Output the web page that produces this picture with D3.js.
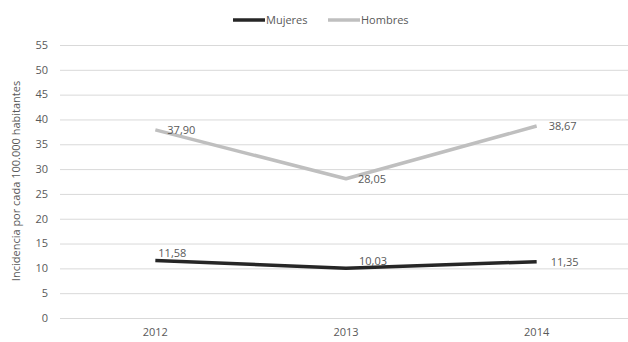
<!DOCTYPE html>
<html><head><meta charset="utf-8">
<script src="https://cdn.jsdelivr.net/npm/d3@7"></script>
<style>body{margin:0;background:#fff}svg{display:block}text{font-family:"Open Sans",sans-serif;fill:#595959}</style>
</head><body><svg id="c" width="628" height="342"></svg>
<script>
const years = ["2012","2013","2014"];
const mujeres = [11.58, 10.03, 11.35];
const hombres = [37.90, 28.05, 38.67];
const yTicks = [0,5,10,15,20,25,30,35,40,45,50,55];
const seriesNames = ["Mujeres","Hombres"];
const colors = ["#262626","#bfbfbf"];
const yTitle = "Incidencia por cada 100.000 habitantes";

const svg = d3.select("#c");
const x = d3.scaleBand().domain(years).range([60, 632]);
const y = d3.scaleLinear().domain([0,55]).range([318, 45]);
const fmt = v => v.toFixed(2).replace(".", ",");

svg.append("g").selectAll("line").data(yTicks).join("line")
  .attr("x1",60).attr("x2",628).attr("y1",d=>y(d)+0.5).attr("y2",d=>y(d)+0.5)
  .attr("stroke","#d9d9d9").attr("stroke-width",1);

svg.append("g").selectAll("text").data(yTicks).join("text")
  .attr("x",48).attr("y",d=>y(d)).attr("dy","0.35em").attr("text-anchor","end")
  .attr("font-size",11).text(d=>d);

svg.append("g").selectAll("text").data(years).join("text")
  .attr("x",d=>x(d)+x.bandwidth()/2).attr("y",336).attr("text-anchor","middle")
  .attr("font-size",11).text(d=>d);

svg.append("text").attr("transform","translate(20,181) rotate(-90)")
  .attr("text-anchor","middle").attr("font-size",11).text(yTitle);

const cx = d => x(d)+x.bandwidth()/2;
const line = d3.line().x((d,i)=>cx(years[i])).y(d=>y(d));
[mujeres, hombres].forEach((s,k)=>{
  svg.append("path").datum(s).attr("d",line).attr("fill","none")
    .attr("stroke",colors[k]).attr("stroke-width",3.5).attr("stroke-linejoin","round");
});
// labels
hombres.forEach((v,i)=>{
  svg.append("text").attr("x",cx(years[i])+12).attr("y",y(v)).attr("dy","0.35em")
    .attr("font-size",11).text(fmt(v));
});
mujeres.forEach((v,i)=>{
  const up = i<2 ? -7 : 0;
  svg.append("text").attr("x",cx(years[i])+(i===2?14:3)+(i===1?10:0)).attr("y",y(v)+up).attr("dy","0.35em")
    .attr("font-size",11).text(fmt(v));
});

// legend
const leg = [{x:233},{x:328}];
seriesNames.forEach((n,k)=>{
  svg.append("line").attr("x1",leg[k].x).attr("x2",leg[k].x+32).attr("y1",20).attr("y2",20)
    .attr("stroke",colors[k]).attr("stroke-width",3.5);
  svg.append("text").attr("x",leg[k].x+33).attr("y",20).attr("dy","0.35em").attr("font-size",11).text(n);
});
</script></body></html>
